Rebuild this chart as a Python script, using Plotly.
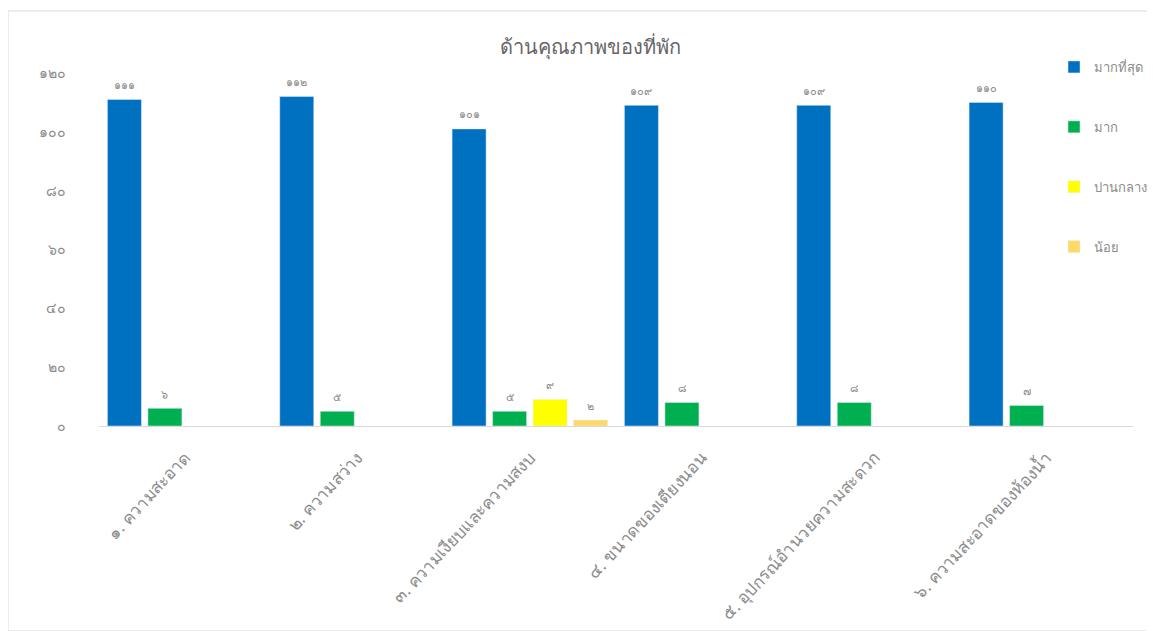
import plotly.graph_objects as go

categories = [
    "๑. ความสะอาด",
    "๒. ความสว่าง",
    "๓. ความเงียบและความสงบ",
    "๔. ขนาดของเตียงนอน",
    "๕. อุปกรณ์อำนวยความสะดวก",
    "๖. ความสะอาดของห้องน้ำ",
]
series_names = ["มากที่สุด", "มาก", "ปานกลาง", "น้อย"]
most = [111, 112, 101, 109, 109, 110]
much = [6, 5, 5, 8, 8, 7]
moderate = [None, None, 9, None, None, None]
little = [None, None, 2, None, None, None]
colors = ["#0070C0", "#00B050", "#FFFF00", "#FFD966"]
y_ticks = [0, 20, 40, 60, 80, 100, 120]

THAI_DIGITS = "๐๑๒๓๔๕๖๗๘๙"


def thai_num(v):
    return "".join(THAI_DIGITS[int(c)] for c in str(v))


FONT = "Noto Sans, Tahoma, sans-serif"
W, H = 1147, 623
L, R, T, B = 91, 22, 65, 205
PW, PH = W - L - R, H - T - B

fig = go.Figure()
for i, (name, vals, col) in enumerate(zip(series_names, [most, much, moderate, little], colors)):
    fig.add_trace(go.Bar(
        x=categories,
        y=vals,
        name=name,
        marker=dict(color=col),
        text=[("<span style='font-size:11px'>" + thai_num(v) + "</span><br> ") if v is not None else "" for v in vals],
        textposition="outside",
        textfont=dict(size=5, color="#8c8c8c", family=FONT),
        constraintext="none",
        cliponaxis=False,
        legendgroup=f"g{i}",
    ))

fig.update_layout(
    width=W,
    height=H,
    barmode="group",
    bargap=0.06,
    bargroupgap=0.16,
    paper_bgcolor="white",
    plot_bgcolor="white",
    margin=dict(l=L, r=R, t=T, b=B, autoexpand=False),
    font=dict(family=FONT, color="#8c8c8c"),
    title=dict(
        text="ด้านคุณภาพของที่พัก",
        x=582 / W, xanchor="center",
        y=1 - 39 / H, yanchor="middle",
        font=dict(size=20, color="#666666", family=FONT),
    ),
    legend=dict(
        x=(1046 - L) / PW, y=1 + 21 / PH, xanchor="left", yanchor="top",
        font=dict(size=13, color="#8c8c8c"),
        tracegroupgap=40,
        bgcolor="rgba(0,0,0,0)",
    ),
    xaxis=dict(
        showline=True, linecolor="#d9d9d9", linewidth=1,
        ticks="", tickangle=-47,
        tickfont=dict(size=17, color="#8c8c8c"),
        showgrid=False,
        ticklabelstandoff=14,
        automargin=False,
    ),
    yaxis=dict(
        range=[0, 120],
        tickvals=y_ticks,
        ticktext=[thai_num(v) for v in y_ticks],
        tickfont=dict(size=14, color="#8c8c8c"),
        showgrid=False, zeroline=False, showline=False,
        ticklabelstandoff=32,
        automargin=False,
    ),
    shapes=[dict(
        type="rect", xref="paper", yref="paper",
        x0=(0 - L) / PW, x1=(1143 - L) / PW,
        y0=(PH + T - 623) / PH, y1=(PH + T - 3) / PH,
        line=dict(color="#d9d9d9", width=1), fillcolor="rgba(0,0,0,0)", layer="below",
    )],
)

fig.write_html("out.html")
